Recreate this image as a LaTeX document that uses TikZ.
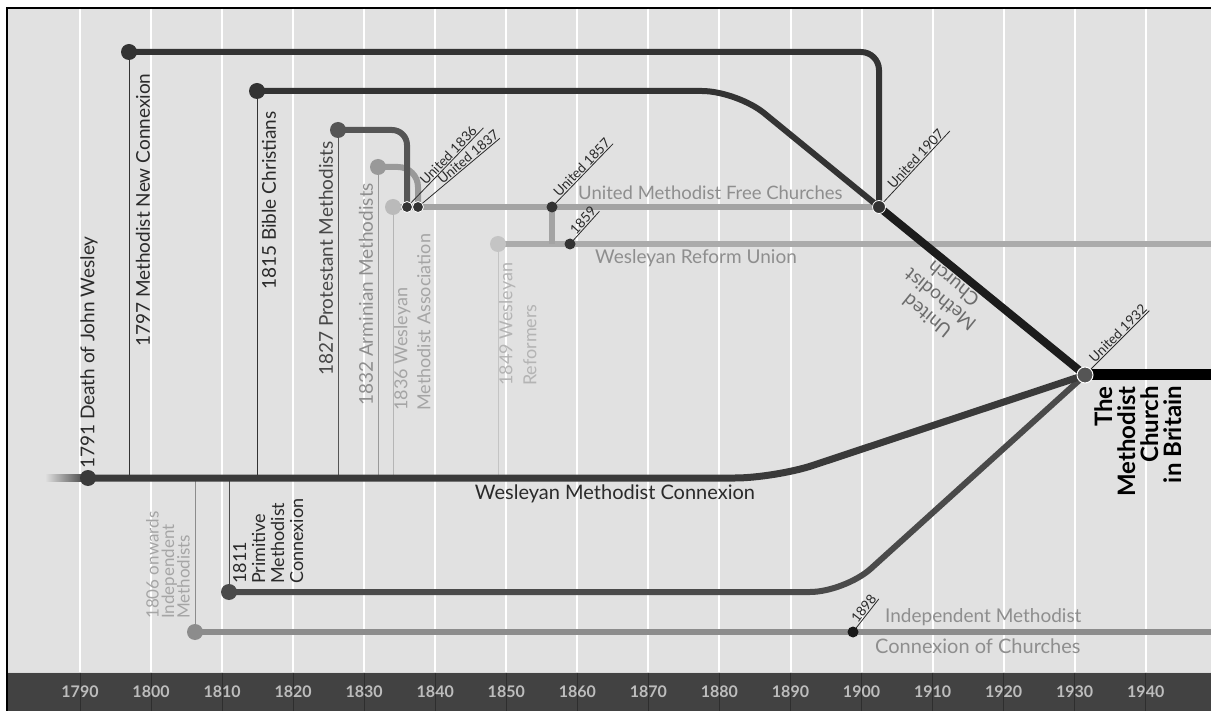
\documentclass[tikz,border=0pt]{standalone}
\usepackage{fontspec}
\setmainfont{Lato}
\usetikzlibrary{calc}
\definecolor{bg}{HTML}{E1E1E1}
\definecolor{bar}{HTML}{424242}
\definecolor{barline}{HTML}{2E2E2E}
\definecolor{axtext}{HTML}{BDBDBD}
\definecolor{cnc}{HTML}{333333}
\definecolor{cbc}{HTML}{333333}
\definecolor{cpm}{HTML}{555555}
\definecolor{cam}{HTML}{999999}
\definecolor{cwa}{HTML}{A3A3A3}
\definecolor{cwr}{HTML}{ABABAB}
\definecolor{cwm}{HTML}{3A3A3A}
\definecolor{cpr}{HTML}{4A4A4A}
\definecolor{cim}{HTML}{8C8C8C}
\definecolor{cumc}{HTML}{1C1C1C}
\definecolor{tdark}{HTML}{2A2A2A}
\definecolor{tmid}{HTML}{474747}
\definecolor{tgray}{HTML}{8E8E8E}
\definecolor{tlight}{HTML}{A5A5A5}
\definecolor{tpale}{HTML}{B4B4B4}
\tikzset{
  grid/.style={white, line width=2},
  thin/.style={line width=1},
  branch/.style={line width=6},
  dot/.style={circle, inner sep=0, minimum size=16},
  jdot/.style={circle, inner sep=0, minimum size=11, fill=cnc, draw=white, line width=0.8},
  lead/.style={tdark, line width=0.8},
  leadlab/.style={font=\fontsize{13.5}{15}\selectfont, text=tdark, inner sep=0.8},
  vlab/.style={font=\fontsize{19}{22}\selectfont, inner sep=0, rotate=90},
  hlab/.style={font=\fontsize{19}{22}\selectfont, inner sep=0},
  axlab/.style={font=\bfseries\fontsize{16}{18}\selectfont, text=axtext, inner sep=0}
}
\begin{document}
\begin{tikzpicture}[x=1pt,y=-1pt]
\useasboundingbox (0,0) rectangle (1211,711);
% background and frame
\fill[white] (0,0) rectangle (1211,711);
\fill[bg] (8,9) rectangle (1211,673);
\fill[bar] (8,673) rectangle (1211,711);
\draw[line width=2, black] (7,711) -- (7,8) -- (1211,8);
\draw[white!85!black, line width=1] (8,672.5) -- (1211,672.5);
% decade grid and axis
\foreach \yr in {1790,1800,...,1940} {
  \pgfmathsetmacro\xx{80+(\yr-1790)*7.105}
  \draw[grid] (\xx,9) -- (\xx,672);
  \draw[barline, line width=1] (\xx,673) -- (\xx,711);
  \node[axlab] (y\yr) at (\xx,692) {\yr};
}
% coordinates
\coordinate (p1791) at (88,478);
\coordinate (p1797) at (129,52);
\coordinate (p1815) at (257,91);
\coordinate (p1827) at (338,130);
\coordinate (p1832) at (378,167);
\coordinate (p1836) at (393,207);
\coordinate (u1836) at (407,207);
\coordinate (u1837) at (418,207);
\coordinate (p1849) at (498,244);
\coordinate (u1857) at (552,207);
\coordinate (j1857) at (552,244);
\coordinate (u1859) at (570,244);
\coordinate (u1907) at (879,207);
\coordinate (u1932) at (1085,375);
\coordinate (p1806) at (195,632);
\coordinate (p1811) at (229,592);
\coordinate (u1898) at (853,632);
\coordinate (ncK) at (879,52);
\coordinate (bcK) at (737,91);
\coordinate (pmK) at (407,130);
\coordinate (amK) at (418,167);
\coordinate (wmK) at (775,478);
\coordinate (prK) at (845,592);
\coordinate (fadeL) at (45,478);
\coordinate (reformE) at (1211,244);
\coordinate (indepE) at (1211,632);
\coordinate (mcbE) at (1211,375);
\coordinate (t1797) at (129,478);
\coordinate (t1815) at (257,478);
\coordinate (t1827) at (338,478);
\coordinate (t1832) at (378,478);
\coordinate (t1836) at (393,478);
\coordinate (t1849) at (498,478);
\coordinate (t1811) at (229,478);
\coordinate (t1806) at (195,478);
% thin drop lines
\draw[thin, cnc] (p1797) -- (t1797);
\draw[thin, cbc] (p1815) -- (t1815);
\draw[thin, cpm] (p1827) -- (t1827);
\draw[thin, cam] (p1832) -- (t1832);
\draw[thin, cwa!80!white] (p1836) -- (t1836);
\draw[thin, cwr!70!white] (p1849) -- (t1849);
\draw[thin, cpr] (t1811) -- (p1811);
\draw[thin, cim] (t1806) -- (p1806);
% branch lines
\draw[branch, cim] (p1806) -- (indepE);
\draw[branch, cwr] (p1849) -- (reformE);
\draw[branch, cwa] (u1857) -- (j1857);
\draw[branch, cwa] (p1836) -- (u1907);
\draw[branch, cam, rounded corners=20] (p1832) -- (amK) -- (u1837);
\draw[branch, cpm, rounded corners=15] (p1827) -- (pmK) -- (u1836);
\draw[branch, cnc, rounded corners=18] (p1797) -- (ncK) -- (u1907);
\draw[branch, cbc, rounded corners=35] (p1815) -- (bcK) -- (u1907);
\draw[line width=8, cumc] (u1907) -- (u1932);
\draw[branch, cpr, rounded corners=35] (p1811) -- (prK) -- (u1932);
\fill[left color=bg, right color=cwm] ($(fadeL)+(0,-3.5)$) rectangle ($(p1791)+(0,3.5)$);
\draw[line width=7, cwm, rounded corners=40] (p1791) -- (wmK) -- (u1932);
\draw[line width=11, black] (u1932) -- (mcbE);
% leader lines with labels
\coordinate (l1836) at ($(u1836)+(-46:110)$);
\coordinate (l1837) at ($(u1837)+(-40:107)$);
\coordinate (l1857) at ($(u1857)+(-46:88)$);
\coordinate (l1859) at ($(u1859)+(-48:44)$);
\coordinate (l1907) at ($(u1907)+(-47:104)$);
\coordinate (l1932) at ($(u1932)+(-45:91)$);
\coordinate (l1898) at ($(u1898)+(-52:42)$);
\draw[lead] (u1836) -- (l1836) node[pos=0.6, sloped, above, leadlab] {United 1836};
\draw[lead] (u1837) -- (l1837) node[pos=0.66, sloped, above, leadlab] {United 1837};
\draw[lead] (u1857) -- (l1857) node[pos=0.56, sloped, above, leadlab] {United 1857};
\draw[lead] (u1859) -- (l1859) node[pos=0.6, sloped, above, leadlab] {1859};
\draw[lead] (u1907) -- (l1907) node[pos=0.58, sloped, above, leadlab] {United 1907};
\draw[lead] (u1932) -- (l1932) node[pos=0.58, sloped, above, leadlab] {United 1932};
\draw[lead] (u1898) -- (l1898) node[pos=0.6, sloped, above, leadlab] {1898};
% dots
\node[dot, fill=cnc] (d1797) at (p1797) {};
\node[dot, fill=cbc] (d1815) at (p1815) {};
\node[dot, fill=cpm] (d1827) at (p1827) {};
\node[dot, fill=cam] (d1832) at (p1832) {};
\node[dot, fill=cwa!75!white] (d1836) at (p1836) {};
\node[dot, fill=cwr!70!white] (d1849) at (p1849) {};
\node[dot, fill=cwm] (d1791) at (p1791) {};
\node[dot, fill=cpr] (d1811) at (p1811) {};
\node[dot, fill=cim] (d1806) at (p1806) {};
\node[jdot] (du1836) at (u1836) {};
\node[jdot] (du1837) at (u1837) {};
\node[jdot, draw=none] (du1857) at (u1857) {};
\node[jdot, draw=none] (du1859) at (u1859) {};
\node[jdot, minimum size=13] (du1907) at (u1907) {};
\node[jdot, draw=none, fill=black!90] (du1898) at (u1898) {};
\node[dot, fill=cpm, draw=white, line width=1] (du1932) at (u1932) {};
% vertical labels
\node[vlab, anchor=west, text=tdark] (n1791) at (89,469) {1791 Death of John Wesley};
\node[vlab, anchor=west, text=tdark] (n1797) at (143,347) {1797 Methodist New Connexion};
\node[vlab, anchor=west, text=tdark] (n1815) at (269,290) {1815 Bible Christians};
\node[vlab, anchor=west, text=tmid] (n1827) at (326,376) {1827 Protestant Methodists};
\node[vlab, anchor=west, text=tgray] (n1832) at (366,406) {1832 Arminian Methodists};
\node[vlab, anchor=north west, align=left, text=tlight, font=\fontsize{18}{23}\selectfont] (n1836) at (394,411) {1836 Wesleyan\\Methodist Association};
\node[vlab, anchor=north west, align=left, text=tpale, font=\fontsize{18}{24}\selectfont] (n1849) at (499,386) {1849 Wesleyan\\Reformers};
\node[vlab, anchor=north west, align=left, text=tdark, font=\fontsize{18}{19}\selectfont] (n1811) at (233,584) {1811\\Primitive\\Methodist\\Connexion};
\node[vlab, anchor=north west, align=left, text=tlight, font=\fontsize{17}{15.5}\selectfont] (n1806) at (146,619) {1806 onwards\\Independent\\Methodists};
\node[vlab, anchor=north east, align=right, text=black, font=\bfseries\fontsize{24}{23}\selectfont] (nmcb) at (1094,386) {The\\Methodist\\Church\\in Britain};
\node[hlab, rotate=141, align=center, text=tmid!80!white, font=\fontsize{19}{21}\selectfont] (numc) at (940,300) {United\\Methodist\\Church};
% horizontal labels
\node[hlab, text=tdark, font=\fontsize{20}{22}\selectfont] (nwmc) at (615,494) {Wesleyan Methodist Connexion};
\node[hlab, text=tgray, anchor=west, font=\fontsize{18.5}{20}\selectfont] (numfc) at (578,193) {United Methodist Free Churches};
\node[hlab, text=tgray, anchor=west] (nwru) at (595,258) {Wesleyan Reform Union};
\node[hlab, text=tgray, anchor=west] (nimc1) at (885,617) {Independent Methodist};
\node[hlab, text=tgray, anchor=west, font=\fontsize{20}{22}\selectfont] (nimc2) at (875,646) {Connexion of Churches};
\end{tikzpicture}
\end{document}
